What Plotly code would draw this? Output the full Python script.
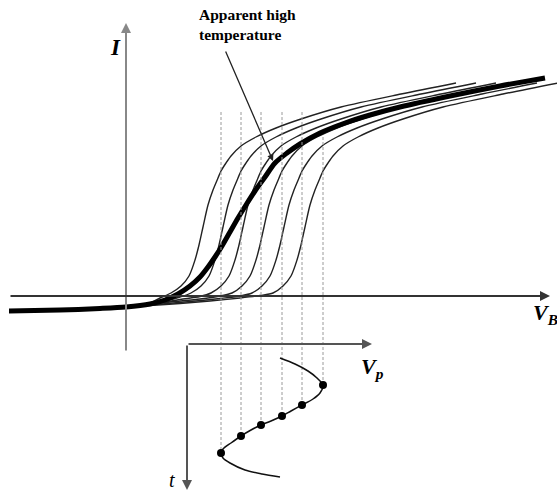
import plotly.graph_objects as go

# ---------------- data ----------------
# Upper panel: probe I-V characteristics (V_B, I), arbitrary units
thick_vb = [-117, -66, -26, 0, 24, 39, 52, 64, 74, 82, 89, 96, 104, 112, 120, 129, 139, 149, 161, 174,
            194, 219, 244, 274, 324, 374, 419]
thick_i = [-15, -14, -12.5, -11, -8, -4, 2, 10, 19, 29, 39, 50, 64, 78, 91, 105, 119, 133, 143, 152,
           163, 173, 181, 189, 200, 210, 218]

c1_vb = [-117, -66, 0, 24, 34, 45, 55, 63, 69, 73, 77, 82, 87, 92, 95, 100, 105, 115, 130, 150, 175, 215, 275, 330]
c1_i = [-15, -14, -11, -7, -2, 3, 10, 20, 36, 51, 69, 91, 106, 118, 125, 133, 140, 150, 159, 168, 177, 189, 202, 213]

c2_vb = [-117, -66, 0, 24, 39, 54, 65, 75, 83, 89, 93, 97, 102, 107, 112, 115, 120, 125, 135, 150, 170, 195, 235, 295, 350]
c2_i = [-15, -14, -11, -8.5, -5, -1, 3, 10, 20, 36, 51, 69, 91, 106, 118, 125, 133, 140, 150, 159, 168, 177, 189, 202, 213]

c3_vb = [-117, -66, 0, 24, 54, 74, 85, 95, 103, 109, 113, 117, 122, 127, 132, 135, 140, 145, 155, 170, 190, 215, 255, 315, 370]
c3_i = [-15, -14, -11, -8.5, -3.5, -0.5, 3, 10, 20, 36, 51, 69, 91, 106, 118, 125, 133, 140, 150, 159, 168, 177, 189, 202, 213]

c4_vb = [-117, -66, 0, 24, 44, 74, 94, 106, 116, 124, 130, 134, 138, 143, 148, 153, 156, 161, 166, 176, 191, 211, 236, 276, 336, 391]
c4_i = [-15, -14, -11, -8.5, -6, -3, 0, 3, 10, 20, 36, 51, 69, 91, 106, 118, 125, 133, 140, 150, 159, 168, 177, 189, 202, 213]

c5_vb = [-117, -66, 0, 24, 64, 94, 114, 126, 136, 144, 150, 154, 158, 163, 168, 173, 176, 181, 186, 196, 211, 231, 256, 296, 356, 411]
c5_i = [-15, -14, -11, -9, -5.5, -2.5, 0, 3, 10, 20, 36, 51, 69, 91, 106, 118, 125, 133, 140, 150, 159, 168, 177, 189, 202, 213]

c6_vb = [-117, -66, 0, 24, 54, 84, 114, 134, 147, 157, 165, 171, 175, 179, 184, 189, 194, 197, 202, 207, 217, 232, 252, 277, 317, 377, 432]
c6_i = [-15, -14, -11, -9.5, -7.5, -5, -2, 0.5, 3, 10, 20, 36, 51, 69, 91, 106, 118, 125, 133, 140, 150, 159, 168, 177, 189, 202, 213]

thin_curves = [(c1_vb, c1_i), (c2_vb, c2_i), (c3_vb, c3_i), (c4_vb, c4_i), (c5_vb, c5_i), (c6_vb, c6_i)]

# Lower panel: plasma potential V_p versus time t (t grows downward)
sweep_vp = [34, 54, 74, 95, 115, 136]
sweep_t = [109, 92, 81, 72, 61, 41]
guide_top_t = [-232, -232, -232, -232, -232, -207]

vp_curve = [93, 108, 121, 130, 136, 133, 126, 115, 104, 95, 84, 74, 64, 54, 44, 36, 34, 36, 43, 58, 75, 93]
t_curve = [14, 20, 27, 34, 41, 49, 55, 61, 67, 72, 77, 81, 86, 92, 99, 105, 109, 114, 119, 126, 130, 133]

# ---------------- figure ----------------
SERIF = "'Liberation Serif', 'Times New Roman', serif"
fig = go.Figure()

# dashed guide lines (lower-panel coordinates)
for vp, t0, t1 in zip(sweep_vp, guide_top_t, sweep_t):
    fig.add_trace(go.Scatter(x=[vp, vp], y=[t0, t1], xaxis="x2", yaxis="y2", mode="lines",
                             line=dict(color="#9a9a9a", width=1, dash="3px,2px"), hoverinfo="skip"))

# thin I-V curves
for vb, cur in thin_curves:
    fig.add_trace(go.Scatter(x=vb, y=cur, mode="lines",
                             line=dict(color="#222222", width=1.4, shape="spline", smoothing=0.8),
                             hoverinfo="skip"))

# thick averaged curve
fig.add_trace(go.Scatter(x=thick_vb, y=thick_i, mode="lines",
                         line=dict(color="#000000", width=5, shape="spline", smoothing=0.8),
                         hoverinfo="skip"))

# Vp(t) curve and sample dots
fig.add_trace(go.Scatter(x=vp_curve, y=t_curve, xaxis="x2", yaxis="y2", mode="lines",
                         line=dict(color="#111111", width=1.5, shape="spline", smoothing=0.8),
                         hoverinfo="skip"))
fig.add_trace(go.Scatter(x=sweep_vp, y=sweep_t, xaxis="x2", yaxis="y2", mode="markers",
                         marker=dict(color="#000000", size=8), hoverinfo="skip"))

ann = []
# axis arrows, upper panel
ann.append(dict(x=0, y=273, ax=0, ay=-56, xref="x", yref="y", axref="x", ayref="y", text="",
                showarrow=True, arrowhead=2, arrowsize=1, arrowwidth=2, arrowcolor="#888888"))
ann.append(dict(x=424, y=0, ax=-117, ay=0, xref="x", yref="y", axref="x", ayref="y", text="",
                showarrow=True, arrowhead=2, arrowsize=1, arrowwidth=2, arrowcolor="#333333"))
# axis arrows, lower panel
ann.append(dict(x=185, y=0, ax=0, ay=0, xref="x2", yref="y2", axref="x2", ayref="y2", text="",
                showarrow=True, arrowhead=2, arrowsize=1, arrowwidth=2, arrowcolor="#555555"))
ann.append(dict(x=0, y=146, ax=0, ay=0, xref="x2", yref="y2", axref="x2", ayref="y2", text="",
                showarrow=True, arrowhead=2, arrowsize=1, arrowwidth=2, arrowcolor="#555555"))
# pointer arrow
ann.append(dict(x=147, y=135, ax=99, ay=246, xref="x", yref="y", axref="x", ayref="y", text="",
                showarrow=True, arrowhead=2, arrowsize=1, arrowwidth=1.3, arrowcolor="#222222"))
# labels
ann.append(dict(x=-11, y=249, xref="x", yref="y", showarrow=False, text="<b><i>I</i></b>",
                font=dict(family=SERIF, size=23, color="#000")))
ann.append(dict(x=405, y=-18, xref="x", yref="y", showarrow=False, xanchor="left",
                text="<b><i>V</i></b><sub><b><i>B</i></b></sub>",
                font=dict(family=SERIF, size=22, color="#000")))
ann.append(dict(x=172, y=24, xref="x2", yref="y2", showarrow=False, xanchor="left",
                text="<b><i>V</i></b><sub><b><i>p</i></b></sub>",
                font=dict(family=SERIF, size=22, color="#000")))
ann.append(dict(x=-15, y=136, xref="x2", yref="y2", showarrow=False,
                text="<i>t</i>", font=dict(family=SERIF, size=20, color="#000")))
ann.append(dict(x=71, y=292, xref="x", yref="y", showarrow=False, xanchor="left", yanchor="top",
                align="left", text="<b>Apparent high<br>temperature</b>",
                font=dict(family=SERIF, size=15.5, color="#000")))

fig.update_layout(
    width=557, height=494, margin=dict(l=0, r=0, t=0, b=0),
    paper_bgcolor="white", plot_bgcolor="white", showlegend=False,
    xaxis=dict(range=[-126, 431], visible=False, domain=[0, 1]),
    yaxis=dict(range=[-198, 296], visible=False, domain=[0, 1]),
    xaxis2=dict(range=[-187, 370], visible=False, overlaying="x", anchor="y2"),
    yaxis2=dict(range=[150, -344], visible=False, overlaying="y", anchor="x2"),
    annotations=ann,
)

fig.write_html("out.html")
